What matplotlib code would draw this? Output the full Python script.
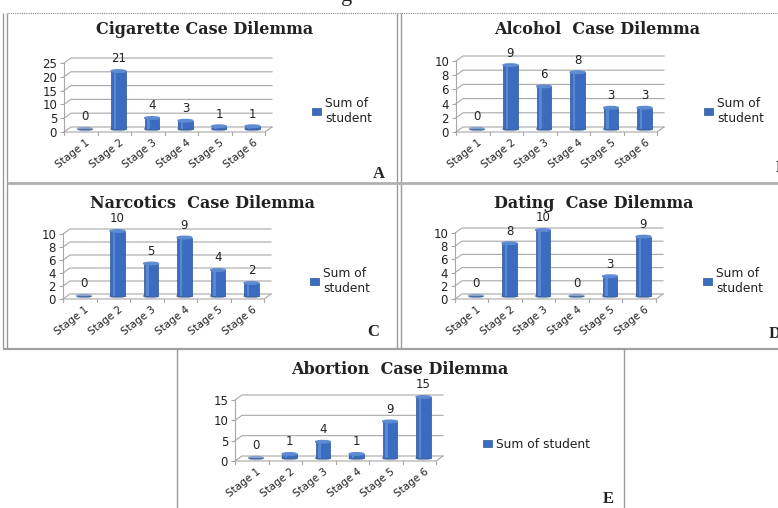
import matplotlib
matplotlib.use("Agg")
import matplotlib.pyplot as plt
from matplotlib.patches import Ellipse
from matplotlib.transforms import ScaledTranslation

W, H = 778, 508

stages = ["Stage 1", "Stage 2", "Stage 3", "Stage 4", "Stage 5", "Stage 6"]

cigarette = [0, 21, 4, 3, 1, 1]
alcohol = [0, 9, 6, 8, 3, 3]
narcotics = [0, 10, 5, 9, 4, 2]
dating = [0, 8, 10, 0, 3, 9]
abortion = [0, 1, 4, 1, 9, 15]

GRID = "#a8a8a8"
BAR = "#3b6cc0"
BAR_EDGE = "#2b5597"
TEXT = "#222222"

fig = plt.figure(figsize=(W / 100, H / 100), dpi=100)
fig.patch.set_facecolor("white")

# full-figure overlay in pixel coords for the frame lines and letters
ov = fig.add_axes([0, 0, 1, 1])
ov.set_xlim(0, W)
ov.set_ylim(H, 0)
ov.axis("off")


def frame_line(xs, ys, **kw):
    style = dict(color="#9a9a9a", lw=1.0, solid_capstyle="butt")
    style.update(kw)
    ov.plot(xs, ys, **style)


frame_line([8, W], [13, 13], ls=(0, (1, 1)), color="#888888", lw=0.8)
frame_line([3, 3], [13, 349])
frame_line([7, 7], [13, 349])
frame_line([397, 397], [13, 349])
frame_line([401, 401], [13, 349])
frame_line([7, W], [183, 183], lw=2.0, color="#b0b0b0")
frame_line([3, W], [349, 349], lw=1.6, color="#a0a0a0")
frame_line([177, 177], [349, H])
frame_line([624, 624], [349, H])

ov.text(347, 1, "g", ha="center", va="baseline", fontsize=16,
        family="Liberation Serif", color=TEXT)


def panel(values, title, ymax, ystep, left, y0, ytop, title_xy,
          legend_label, legend_xy, letter, letter_xy):
    width = 201
    ax = fig.add_axes([left / W, 1 - y0 / H, width / W, (y0 - ytop) / H])
    ax.patch.set_visible(False)
    for s in ax.spines.values():
        s.set_visible(False)
    ax.set_xlim(-0.5, 5.5)
    ax.set_ylim(0, ymax)

    # data units per pixel, used for the fake 3-D depth
    ppx = 6 / width
    ppy = ymax / (y0 - ytop)
    bx, by = 7 * ppx, 5 * ppy
    k = 0.6

    ticks = list(range(0, ymax + 1, ystep))
    for t in ticks:
        ax.plot([-0.5, -0.5 + bx, 5.5 + bx], [t, t + by, t + by],
                color=GRID, lw=0.8, zorder=1, clip_on=False)
    ax.plot([-0.5, 5.5, 5.5 + bx], [0, 0, by], color=GRID, lw=0.8,
            zorder=1, clip_on=False)
    ax.plot([-0.5, -0.5], [0, ymax], color=GRID, lw=0.8, zorder=1,
            clip_on=False)
    for b in range(7):
        ax.plot([b - 0.5, b - 0.5], [0, -3 * ppy], color=GRID, lw=0.8,
                clip_on=False)

    xs = [i + bx * k for i in range(len(values))]
    bw = 0.44
    for x in xs:
        ax.add_patch(Ellipse((x, by * k), bw, 3 * ppy, color="#8da2c4",
                             zorder=2, clip_on=False))
    bars = ax.bar(xs, values, width=bw, bottom=by * k, color=BAR,
                  edgecolor=BAR_EDGE, lw=0.5, label=legend_label, zorder=3,
                  clip_on=False)
    ax.bar([x - 0.1 for x in xs], values, width=0.08, bottom=by * k,
           color="#6e9ade", alpha=0.6, lw=0, zorder=3.5, clip_on=False)
    for x, v in zip(xs, values):
        if v > 0:
            ax.add_patch(Ellipse((x, v + by * k), bw, 2.5 * ppy,
                                 color="#5f8bd2", zorder=4, clip_on=False))
    anns = ax.bar_label(bars, labels=[str(v) for v in values], padding=4,
                        fontsize=8.5, color=TEXT)
    for a in anns:
        a.set_annotation_clip(False)

    ax.set_yticks(ticks)
    ax.tick_params(axis="y", length=3, color=GRID, labelsize=8.5, pad=2,
                   labelcolor=TEXT)
    ax.set_xticks(range(len(stages)))
    ax.set_xticklabels(stages, rotation=38, ha="right",
                       rotation_mode="anchor", fontsize=7.5, color=TEXT)
    ax.tick_params(axis="x", length=0, pad=4)
    shift = ScaledTranslation(0.05, 0, fig.dpi_scale_trans)
    for lab in ax.get_xticklabels():
        lab.set_transform(lab.get_transform() + shift)

    fig.text(title_xy[0] / W, 1 - title_xy[1] / H, title, ha="center",
             va="center", fontsize=11.5, fontweight="bold",
             family="DejaVu Serif", color=TEXT)

    ax.legend(handles=[bars], loc="center left",
              bbox_to_anchor=(legend_xy[0] / W, 1 - legend_xy[1] / H),
              bbox_transform=fig.transFigure, frameon=False, fontsize=8.8,
              handlelength=0.7, handleheight=0.5, handletextpad=0.4,
              borderpad=0, borderaxespad=0, labelcolor=TEXT)

    ov.text(letter_xy[0], letter_xy[1], letter, ha="center", va="center",
            fontsize=12, fontweight="bold", family="Liberation Serif",
            color=TEXT)
    return ax


panel(cigarette, "Cigarette Case Dilemma", 25, 5, 64, 132, 63, (205, 30),
      "Sum of\nstudent", (312, 111), "A", (379, 174))
panel(alcohol, "Alcohol  Case Dilemma", 10, 2, 456, 132, 61, (597, 30),
      "Sum of\nstudent", (704, 111), "B", (781, 168))
panel(narcotics, "Narcotics  Case Dilemma", 10, 2, 63, 299, 234, (202, 203),
      "Sum of\nstudent", (310, 281), "C", (373, 332))
panel(dating, "Dating  Case Dilemma", 10, 2, 455, 299, 233, (594, 203),
      "Sum of\nstudent", (703, 281), "D", (775, 334))
panel(abortion, "Abortion  Case Dilemma", 15, 5, 235, 461, 400, (400, 369),
      "Sum of student", (483, 444), "E", (608, 499))

fig.savefig("out.png", dpi=100)
